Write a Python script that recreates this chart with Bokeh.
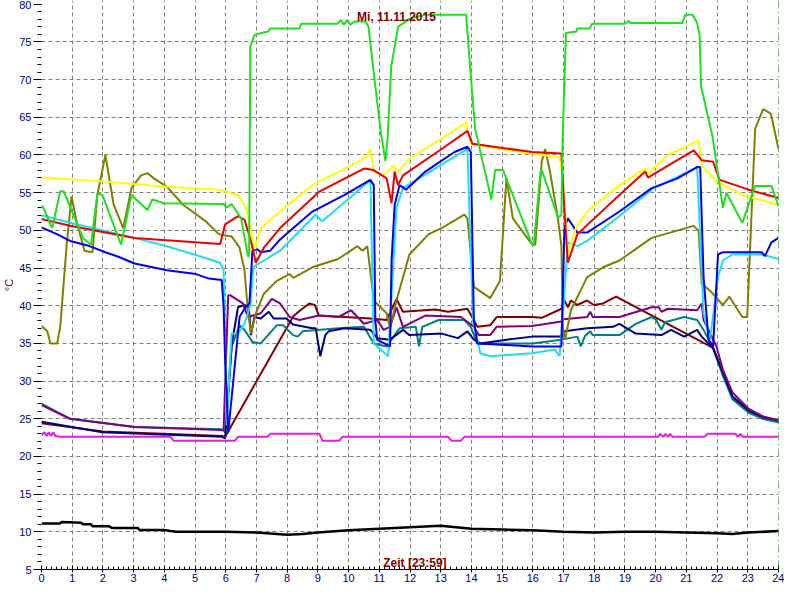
from bokeh.plotting import figure
from bokeh.models import SingleIntervalTicker, FixedTicker, Label, Span
from bokeh.embed import file_html
from bokeh.resources import INLINE

# ---------------- data (hours, °C) ----------------
green_h = [0.0, 0.06, 0.35, 0.61, 0.72, 1.35, 1.61, 1.82, 1.98, 2.59, 2.93, 3.45, 3.61, 3.98, 5.93, 6.03, 6.19, 6.5, 6.72, 6.76,
           6.80, 6.93, 7.16, 7.39, 7.44, 8.4, 8.46, 9.63, 9.75, 9.85, 9.95, 10.05, 10.2, 10.55, 10.65, 10.77, 11.05, 11.2,
           11.27, 11.39, 11.61, 12.0, 12.5, 13.83, 13.95, 14.12, 14.65, 14.77, 15.03, 15.98, 16.03, 16.25, 16.29, 16.82,
           16.93, 16.97, 17.08, 17.42, 17.45, 17.85, 17.93, 19.0, 19.1, 19.2, 20.86, 20.97, 21.2, 21.35, 21.43, 21.48,
           21.85, 22.19, 22.3, 22.82, 23.24, 23.77, 24.0]
green_t = [53.3, 53.0, 50.3, 55.2, 55.2, 49.0, 48.1, 54.9, 54.7, 48.1, 54.7, 52.7, 54.1, 53.6, 53.5, 53.0, 53.5, 51.6, 46.6, 46.6,
           74.4, 75.9, 76.2, 76.4, 76.8, 76.8, 77.4, 77.4, 77.9, 77.3, 77.9, 77.3, 77.7, 77.7, 77.0, 72.6, 63.0, 59.2,
           62.2, 71.8, 77.0, 78.1, 78.6, 78.6, 72.0, 63.5, 54.1, 58.0, 58.0, 48.1, 48.1, 57.8, 58.0, 51.7,
           52.0, 62.2, 76.2, 76.4, 76.8, 76.8, 77.4, 77.4, 77.8, 77.5, 77.5, 78.6, 78.6, 77.5, 76.0, 69.1,
           62.5, 53.0, 55.0, 51.0, 55.9, 55.9, 53.2]

yellow_h = [0.0, 1.98, 4.08, 5.77, 6.4, 6.66, 6.82, 6.95, 7.14, 7.77, 8.82, 9.87, 10.56, 10.71, 10.82, 11.14, 11.45, 11.61,
            11.98, 13.03, 13.82, 13.98, 14.93, 15.98, 16.87, 16.98, 17.14, 17.4, 17.77, 18.82, 19.66, 19.75, 20.4, 21.4,
            21.5, 21.98, 22.82, 24.0]
yellow_t = [57.0, 56.5, 55.8, 55.4, 54.7, 53.0, 49.9, 47.5, 50.3, 52.5, 56.0, 58.2, 59.7, 60.8, 57.8, 57.3, 58.6, 57.8,
            59.5, 62.2, 64.3, 61.5, 60.8, 60.2, 59.7, 56.9, 46.8, 50.3, 52.5, 56.0, 58.2, 57.5, 60.0, 61.9,
            58.6, 56.5, 54.7, 53.4]

red_h = [0.0, 0.93, 3.03, 5.82, 5.98, 6.4, 6.61, 6.82, 6.98, 7.24, 7.77, 9.03, 10.5, 10.82, 11.24, 11.4, 11.5, 11.61,
         11.77, 13.03, 13.87, 14.03, 15.98, 16.93, 17.03, 17.14, 17.45, 18.82, 19.66, 19.75, 20.4, 21.24, 21.5, 21.87,
         22.08, 23.03, 24.0]
red_t = [51.5, 50.6, 49.0, 48.2, 50.8, 51.9, 51.4, 48.6, 45.7, 47.7, 50.3, 55.1, 58.2, 58.0, 56.9, 53.6, 57.8, 56.0,
         57.3, 60.8, 63.2, 61.5, 60.4, 60.2, 52.5, 45.7, 49.5, 54.7, 57.8, 57.0, 58.6, 60.6, 59.3, 59.1,
         56.7, 55.4, 54.3]

blue_h = [0.0, 0.5, 0.93, 1.5, 2.08, 2.5, 3.03, 3.5, 4.08, 5.03, 5.45, 5.87, 5.93, 5.98, 6.08, 6.45, 6.61, 6.77, 6.87,
          7.03, 7.14, 7.45, 7.77, 8.82, 9.87, 10.71, 10.82, 10.87, 10.93, 11.35, 11.4, 11.5, 11.66, 11.87, 12.5, 13.45,
          13.87, 13.98, 14.08, 14.19, 15.98, 16.93, 17.03, 17.14, 17.45, 17.77, 18.82, 19.87, 20.71, 21.35, 21.45,
          21.56, 21.72, 21.87, 22.03, 22.19, 23.45, 23.56, 23.77, 24.0]
blue_t = [50.4, 49.5, 48.6, 48.0, 47.1, 46.5, 45.6, 45.2, 44.7, 44.2, 43.6, 43.4, 39.8, 32.8, 23.2, 38.5, 39.6, 40.3, 47.3,
          47.5, 47.1, 47.3, 48.8, 52.5, 54.7, 56.7, 56.0, 38.1, 35.5, 34.6, 46.0, 53.4, 56.0, 55.4, 57.8, 60.4,
          61.1, 60.4, 38.1, 35.0, 34.6, 34.6, 50.3, 51.6, 49.7, 49.7, 52.5, 55.6, 56.9, 58.4, 58.4,
          43.8, 35.5, 34.6, 46.8, 47.1, 47.1, 46.6, 48.4, 49.0]

cyan_h = [0.0, 0.93, 3.03, 4.08, 5.13, 5.82, 5.93, 6.03, 6.19, 6.4, 6.6, 6.8, 6.9, 7.03, 7.24, 7.77, 8.93, 9.14, 10.29,
          10.71, 10.82, 11.29, 11.45, 11.56, 11.77, 13.87, 14.05, 14.29, 14.61, 15.98, 16.71, 16.87, 17.0, 17.14, 17.45,
          17.77, 18.82, 19.87, 21.35, 21.56, 21.77, 22.03, 22.19, 22.5, 23.45, 24.0]
cyan_t = [52.0, 51.0, 49.0, 47.9, 46.6, 45.7, 44.7, 24.1, 36.3, 36.3, 37.5, 40.0, 45.1, 45.5, 46.0, 47.3, 52.1, 51.2, 55.2,
          56.7, 35.0, 33.3, 45.0, 53.0, 55.6, 60.8, 38.0, 33.7, 33.3, 33.7, 34.2, 33.3, 40.0, 48.4, 47.9,
          48.6, 51.9, 55.4, 58.4, 39.0, 35.5, 43.8, 46.0, 46.8, 46.8, 46.2]

olive_h = [0.0, 0.19, 0.29, 0.51, 0.61, 0.82, 0.98, 1.14, 1.4, 1.66, 1.82, 2.08, 2.35, 2.66, 2.93, 3.24, 3.45, 3.66, 4.08,
           4.61, 5.35, 5.77, 6.19, 6.45, 6.61, 6.72, 6.82, 6.98, 7.24, 7.66, 8.08, 8.2, 8.82, 9.66, 10.29, 10.45, 10.61,
           10.82, 11.24, 11.35, 11.56, 11.98, 12.61, 13.03, 13.77, 13.87, 14.08, 14.61, 14.93, 15.14, 15.35, 15.98,
           16.08, 16.29, 16.4, 16.55, 16.8, 16.93, 16.98, 17.05, 17.24, 17.77, 18.29, 18.82, 19.87, 21.24, 21.4, 21.5,
           21.77, 22.19, 22.4, 22.82, 22.98, 23.24, 23.5, 23.75, 24.0]
olive_t = [37.3, 36.6, 35.0, 35.0, 37.2, 48.1, 54.5, 51.2, 47.3, 47.1, 54.7, 60.0, 53.4, 50.3, 55.6, 57.3, 57.6, 56.9, 55.8,
           53.4, 51.2, 49.5, 49.2, 47.7, 44.7, 39.4, 36.3, 39.0, 41.6, 43.3, 44.2, 43.7, 45.1, 46.2, 47.9, 47.3, 47.9,
           40.7, 39.0, 37.0, 40.7, 46.8, 49.5, 50.3, 52.1, 51.6, 42.5, 41.0, 43.3, 56.9, 51.6, 48.1,
           48.1, 59.1, 60.8, 58.0, 52.0, 48.0, 37.2, 35.5, 39.4, 43.8, 45.1, 46.0, 49.0, 50.6, 49.9, 42.9,
           42.0, 40.1, 41.2, 38.5, 38.5, 63.5, 66.1, 65.5, 60.8]

purple_h = [0.0, 0.93, 3.03, 5.87, 5.93, 6.08, 6.14, 6.56, 6.72, 7.14, 7.5, 7.77, 8.08, 8.4, 9.03, 9.66, 10.08, 10.5, 10.93,
            11.14, 11.35, 11.56, 11.77, 12.5, 13.66, 14.08, 14.24, 14.61, 14.82, 15.98, 16.93, 17.0, 17.77, 17.87, 17.95,
            18.82, 19.87, 20.1, 20.19, 20.4, 21.35, 21.5, 21.56, 21.98, 22.19, 22.5, 23.03, 23.5, 24.0]
purple_t = [26.8, 25.0, 23.9, 23.5, 23.5, 41.4, 41.4, 40.3, 38.5, 39.0, 40.9, 40.3, 38.5, 38.1, 38.7, 38.5, 39.4, 37.6, 38.1,
            36.8, 37.2, 39.8, 37.2, 38.7, 38.5, 37.2, 36.1, 36.1, 37.2, 37.3, 37.9, 38.2, 38.5, 39.2, 38.5,
            38.5, 39.8, 39.8, 39.2, 39.6, 39.4, 40.3, 38.1, 34.6, 31.5, 28.5, 26.3, 25.3, 24.8]

maroon_h = [0.0, 2.0, 5.9, 5.98, 8.2, 8.4, 8.72, 8.9, 9.03, 9.87, 10.71, 11.24, 11.4, 11.56, 11.77, 12.82, 13.24, 13.87,
            14.05, 14.19, 14.61, 14.82, 15.98, 16.29, 16.93, 17.03, 17.14, 17.24, 17.45, 17.77, 17.98, 18.29, 18.71,
            21.87, 22.19, 22.5, 23.03, 23.5, 24.0]
maroon_t = [24.4, 23.3, 22.7, 22.6, 38.6, 39.3, 40.3, 40.1, 38.7, 38.5, 38.3, 38.1, 39.5, 40.9, 39.2, 39.5, 39.2, 39.6,
            38.3, 37.2, 37.4, 38.5, 38.5, 38.4, 39.6, 40.7, 39.8, 40.7, 40.1, 40.7, 40.1, 40.3, 41.2,
            34.4, 31.0, 27.8, 26.0, 25.0, 24.6]

navy_h = [0.0, 1.98, 5.87, 5.98, 6.2, 6.4, 6.61, 6.75, 6.82, 6.93, 7.14, 7.4, 7.56, 7.98, 8.19, 8.82, 8.93, 9.08, 9.24,
          9.35, 9.87, 10.71, 10.93, 11.35, 11.77, 11.98, 13.03, 13.56, 13.87, 14.08, 14.29, 15.14, 15.98, 16.93, 17.03,
          17.77, 18.61, 18.82, 19.35, 20.19, 20.5, 20.93, 21.35, 21.5, 21.87, 22.19, 22.5, 23.03, 23.5, 24.0]
navy_t = [24.6, 23.2, 22.6, 22.4, 35.0, 39.8, 40.1, 39.8, 36.1, 38.5, 38.3, 39.2, 38.3, 38.3, 37.5, 37.0, 37.0, 33.3, 36.1,
          36.6, 37.0, 36.8, 35.7, 35.5, 36.8, 36.1, 36.3, 35.7, 36.6, 35.5, 35.0, 35.5, 35.9, 35.9, 36.6,
          37.0, 37.2, 37.6, 36.3, 36.1, 36.8, 35.9, 36.8, 35.9, 34.4, 31.1, 28.0, 26.1, 25.2, 24.8]

teal_h = [0.0, 0.93, 3.03, 5.87, 5.98, 6.19, 6.45, 6.61, 6.87, 7.14, 7.66, 7.87, 8.19, 8.35, 8.5, 9.66, 10.5, 10.82, 11.24,
          11.66, 12.19, 12.29, 12.4, 12.93, 13.77, 13.98, 14.19, 15.98, 16.93, 17.45, 17.56, 17.7, 17.87, 17.95, 18.82,
          19.35, 19.87, 20.0, 20.19, 20.3, 20.93, 21.35, 21.56, 21.87, 22.19, 22.5, 23.03, 23.5, 24.0]
teal_t = [27.0, 25.0, 23.9, 23.6, 23.2, 34.6, 37.4, 36.8, 35.2, 35.0, 37.4, 37.4, 36.1, 35.9, 36.6, 37.0, 37.2, 35.0, 34.6,
          37.0, 37.2, 34.6, 37.2, 38.1, 38.1, 37.2, 35.0, 35.0, 35.5, 35.9, 34.6, 36.0, 36.6, 36.1, 36.1,
          37.6, 38.5, 38.2, 36.8, 37.8, 38.5, 38.1, 36.8, 34.4, 30.7, 27.6, 25.8, 25.0, 24.5]

magenta_h = [0.0, 0.1, 0.17, 0.24, 0.31, 0.38, 0.45, 0.6, 4.2, 4.3, 6.3, 6.4, 7.35, 7.45, 9.05, 9.15, 9.7, 9.8, 13.24,
             13.35, 13.66, 13.77, 20.08, 20.15, 20.25, 20.32, 20.4, 20.47, 20.55, 21.6, 21.68, 22.6, 22.68, 22.76,
             22.84, 24.0]
magenta_t = [22.8, 23.2, 22.7, 23.2, 22.7, 23.2, 22.7, 22.6, 22.6, 22.1, 22.1, 22.6, 22.6, 23.0, 23.0, 22.1, 22.1, 22.6,
             22.6, 22.1, 22.1, 22.6, 22.6, 23.0, 22.6, 23.0, 22.6, 23.0, 22.6, 22.6, 23.0, 23.0, 22.6, 23.0,
             22.6, 22.6]

black_h = [0.0, 0.6, 0.66, 1.29, 1.35, 1.61, 1.66, 2.19, 2.3, 3.14, 3.19, 4.0, 4.2, 4.4, 4.93, 5.5, 6.0, 7.0, 8.0, 8.5,
           9.0, 10.0, 11.0, 12.0, 13.0, 13.5, 14.0, 15.0, 16.0, 17.0, 18.0, 19.0, 20.0, 21.0, 22.0, 22.5, 23.0, 24.0]
black_t = [11.1, 11.1, 11.3, 11.2, 11.0, 11.0, 10.75, 10.75, 10.5, 10.5, 10.25, 10.25, 10.1, 10.0, 10.0, 10.0, 10.0, 9.9,
           9.6, 9.7, 9.9, 10.2, 10.4, 10.6, 10.8, 10.6, 10.4, 10.3, 10.2, 10.0, 9.9, 10.0, 10.0, 9.9, 9.8, 9.7, 9.9, 10.1]

title_text = "Mi, 11.11.2015"
xlabel_text = "Zeit [23:59]"
ylabel_text = "°C"

series = [
    (black_h, black_t, "#000000", 2.5),
    (magenta_h, magenta_t, "#e020e0", 2),
    (maroon_h, maroon_t, "#800000", 2),
    (teal_h, teal_t, "#008080", 2),
    (navy_h, navy_t, "#000080", 2),
    (purple_h, purple_t, "#800080", 2),
    (olive_h, olive_t, "#808000", 2),
    (cyan_h, cyan_t, "#22ddee", 2),
    (blue_h, blue_t, "#0000ee", 2),
    (yellow_h, yellow_t, "#ffff00", 2),
    (red_h, red_t, "#ee0000", 2),
    (green_h, green_t, "#22dd22", 2),
]

FONT = "Liberation Sans"

p = figure(width=784, height=584, x_range=(0, 24), y_range=(5, 80.5),
           output_backend="svg", toolbar_location=None,
           min_border_left=38, min_border_right=6, min_border_top=0, min_border_bottom=0)
p.background_fill_color = "white"
p.border_fill_color = "white"
p.outline_line_color = None

for xs, ys, col, w in series:
    p.line(xs, ys, line_color=col, line_width=w)

# axes
p.xaxis.ticker = SingleIntervalTicker(interval=1, num_minor_ticks=6)
p.yaxis.ticker = SingleIntervalTicker(interval=5, num_minor_ticks=5)
for ax in (p.xaxis[0], p.yaxis[0]):
    ax.major_label_text_font = FONT
    ax.major_label_text_font_size = "11px"
    ax.major_label_text_color = "#000080"
    ax.major_tick_line_color = "black"
    ax.minor_tick_line_color = "black"
p.xaxis.axis_line_color = "black"
p.xaxis.major_tick_in = 4
p.xaxis.major_tick_out = 3
p.xaxis.minor_tick_in = 3
p.xaxis.minor_tick_out = 0
p.xaxis.major_label_standoff = 1
p.yaxis.axis_line_color = None
p.yaxis.major_tick_in = 0
p.yaxis.major_tick_out = 8
p.yaxis.minor_tick_in = 0
p.yaxis.minor_tick_out = 4
p.yaxis.major_label_standoff = 2
p.yaxis.axis_label = ylabel_text
p.yaxis.axis_label_standoff = 1
p.yaxis.axis_label_text_font = FONT
p.yaxis.axis_label_text_font_size = "11px"
p.yaxis.axis_label_text_font_style = "normal"
p.yaxis.axis_label_text_color = "#800000"

# grid
p.xgrid.ticker = FixedTicker(ticks=list(range(1, 24)))
p.ygrid.ticker = FixedTicker(ticks=list(range(10, 80, 5)))
for g in (p.xgrid[0], p.ygrid[0]):
    g.grid_line_color = "#808080"
    g.grid_line_dash = "4 3"
    g.grid_line_width = 1

p.add_layout(Span(location=24, dimension="height", line_color="#006400",
                  line_dash="8 3 2 3", line_width=1))

p.add_layout(Label(x=11.56, y=78.3, text=title_text, text_align="center", text_baseline="middle",
                   text_font=FONT, text_font_size="12px", text_font_style="bold", text_color="#800000"))
p.add_layout(Label(x=12.16, y=5.85, text=xlabel_text, text_align="center", text_baseline="middle",
                   text_font=FONT, text_font_size="12px", text_font_style="bold", text_color="#800000"))

open("out.html", "w").write(file_html(p, INLINE))
